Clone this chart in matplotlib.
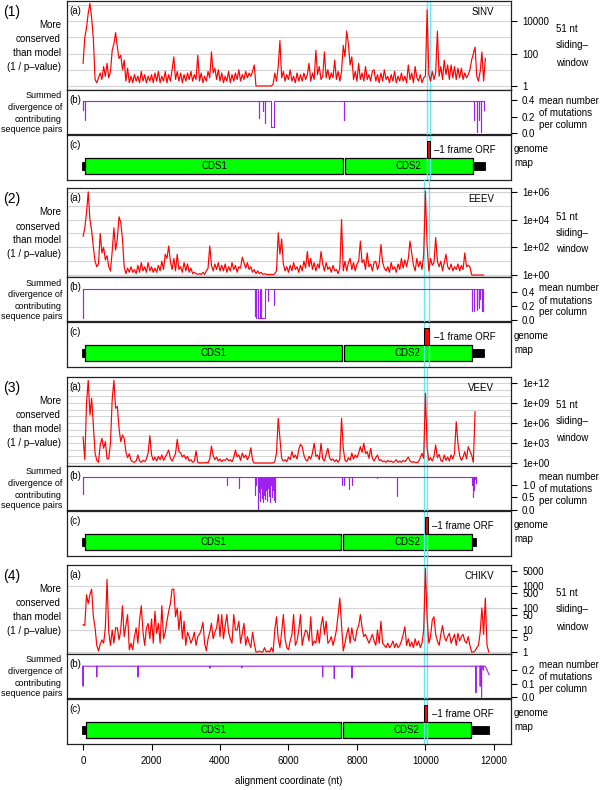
import numpy as np
import matplotlib
matplotlib.use('Agg')
import matplotlib.pyplot as plt
from matplotlib.patches import Rectangle
import matplotlib.transforms as mtrans

plt.rcParams['font.family'] = ['Liberation Sans', 'DejaVu Sans']

W, H = 600, 790
STEP = 50  # red traces: log10(1/p-value) read every 50 nt, from position 0

names = ['SINV', 'EEEV', 'VEEV', 'CHIKV']

sinv_log = [
    1.4, 3.0, 3.6, 4.5, 5.1, 4.2, 2.9, 0.4, 0.2, 0.5, 0.8, 0.4, 1.2, 0.6, 1.4, 0.5, 0.9, 2.2, 2.6, 3.3,
    2.4, 1.7, 1.9, 1.0, 1.6, 0.3, 1.1, 0.2, 0.6, 0.2, 0.7, 0.3, 0.6, 0.2, 0.9, 0.3, 0.7, 0.2, 0.6, 0.3,
    0.7, 0.2, 0.8, 0.3, 0.9, 0.2, 0.6, 0.3, 0.9, 0.2, 0.7, 0.3, 1.0, 1.8, 0.4, 0.9, 0.3, 0.8, 0.2, 0.7,
    0.3, 0.8, 0.4, 0.9, 0.3, 0.7, 0.4, 1.9, 0.3, 0.8, 0.2, 0.6, 0.3, 0.9, 0.5, 2.1, 0.8, 1.1, 0.4, 1.0,
    0.3, 0.8, 0.2, 0.6, 0.3, 0.9, 0.2, 0.7, 0.3, 0.8, 0.4, 1.0, 0.3, 0.7, 0.4, 0.9, 0.5, 0.8, 0.6, 0.9,
    1.3, 0.0, 0.0, 0.0, 0.0, 0.0, 0.0, 0.0, 0.0, 0.0, 0.0, 0.1, 0.8, 0.3, 1.2, 2.8, 0.5, 0.9, 0.3, 0.7,
    0.4, 1.0, 0.3, 0.6, 0.2, 0.8, 0.3, 0.7, 0.3, 0.8, 0.4, 0.7, 1.4, 0.3, 0.8, 0.4, 2.2, 0.7, 1.2, 0.4,
    0.6, 2.1, 0.5, 1.0, 0.4, 0.8, 0.5, 1.6, 0.4, 0.9, 0.3, 0.9, 2.5, 1.8, 3.4, 2.6, 1.3, 1.8, 0.4, 0.9,
    0.3, 1.4, 0.4, 0.8, 0.3, 1.2, 0.4, 0.7, 0.3, 0.9, 1.0, 0.3, 0.7, 0.2, 0.8, 0.3, 1.0, 0.4, 0.6, 0.2,
    0.7, 0.3, 0.9, 0.2, 0.6, 0.3, 0.8, 0.3, 0.6, 0.2, 1.3, 0.4, 0.8, 0.2, 1.2, 0.5, 0.3, 0.7, 0.2, 0.5,
    0.6, 4.7, 0.7, 0.3, 0.9, 0.4, 0.8, 3.4, 0.6, 1.2, 0.4, 1.6, 0.7, 1.3, 0.4, 1.3, 0.5, 1.2, 0.4, 1.1,
    0.5, 1.1, 0.4, 0.8, 0.5, 0.7, 1.0, 1.6, 2.0, 2.4, 0.6, 0.3, 0.9, 2.1, 0.3, 1.7,
]

eeev_log = [
    2.8, 3.4, 4.5, 6.0, 4.0, 3.2, 2.0, 1.0, 0.6, 0.8, 3.0, 1.6, 2.0, 1.1, 1.4, 0.6, 0.3, 1.7, 3.4, 1.8,
    2.6, 4.2, 3.8, 2.6, 0.6, 0.1, 0.5, 0.2, 0.6, 0.2, 0.4, 0.1, 0.7, 0.2, 0.9, 0.3, 0.6, 0.2, 0.9, 0.3,
    0.6, 0.2, 0.5, 0.2, 0.7, 0.3, 1.0, 0.4, 1.5, 1.2, 2.1, 1.0, 0.4, 1.2, 0.3, 1.5, 0.4, 0.6, 0.2, 0.9,
    0.3, 0.8, 0.2, 0.5, 0.1, 0.2, 0.1, 0.05, 0.1, 0.05, 0.2, 0.05, 0.3, 0.5, 2.1, 0.7, 0.3, 0.8, 0.4, 0.9,
    0.3, 0.7, 0.3, 0.8, 0.2, 0.6, 0.3, 0.9, 0.4, 0.7, 0.2, 0.6, 0.5, 1.3, 0.9, 0.5, 0.9, 0.4, 0.6, 0.2,
    0.4, 0.1, 0.3, 0.1, 0.2, 0.05, 0.1, 0.05, 0.05, 0.02, 0.05, 0.02, 0.1, 0.3, 3.05, 1.5, 2.6, 0.8, 0.3, 0.6,
    0.2, 0.7, 0.3, 0.9, 0.4, 0.6, 0.2, 0.7, 0.3, 1.0, 0.5, 1.7, 0.6, 1.2, 0.4, 0.9, 0.3, 0.8, 0.5, 1.7,
    0.8, 0.3, 0.9, 0.4, 0.6, 0.2, 0.7, 0.3, 0.4, 0.1, 0.5, 4.0, 0.3, 1.0, 0.3, 0.9, 1.2, 0.4, 0.9, 0.3,
    0.8, 1.0, 2.45, 0.9, 1.1, 0.4, 1.6, 0.6, 0.8, 0.3, 0.9, 1.0, 0.4, 0.8, 2.2, 0.9, 0.5, 0.3, 0.6, 0.2,
    0.9, 0.4, 0.6, 0.2, 0.8, 0.4, 1.2, 0.5, 1.1, 0.6, 1.2, 2.45, 1.6, 0.7, 0.3, 1.2, 0.6, 1.0, 0.4, 1.5,
    6.05, 2.1, 0.3, 1.2, 0.7, 0.9, 2.7, 1.0, 0.6, 1.0, 0.3, 0.9, 1.5, 0.6, 0.4, 0.8, 0.3, 0.6, 0.4, 0.8,
    0.3, 0.7, 0.4, 1.6, 0.6, 0.7, 0.6, 0.02, 0.0, 0.0, 0.0, 0.0, 0.0, 0.0, 0.0,
]

veev_log = [
    3.9, 0.5, 9.0, 12.4, 7.2, 9.7, 5.5, 1.5, 0.4, 0.1, 2.7, 3.7, 2.2, 3.2, 0.6, 0.7, 3.0, 9.5, 12.4, 8.2,
    8.5, 5.2, 3.2, 4.2, 3.7, 1.7, 0.8, 1.4, 0.4, 0.2, 0.1, 0.3, 1.2, 0.3, 0.1, 0.4, 0.2, 0.6, 1.5, 4.1,
    1.2, 0.4, 0.9, 0.3, 1.0, 0.5, 1.2, 0.4, 0.9, 1.4, 1.95, 0.7, 0.3, 0.8, 1.4, 3.55, 1.7, 1.5, 0.9, 1.2,
    0.6, 1.0, 0.3, 0.5, 0.1, 0.3, 1.8, 0.1, 0.0, 0.0, 0.05, 0.0, 0.1, 0.0, 0.6, 2.55, 1.1, 0.5, 0.9, 0.3,
    0.6, 0.2, 0.5, 0.4, 0.7, 0.3, 0.5, 0.2, 0.8, 1.95, 0.9, 1.2, 0.4, 1.5, 0.8, 1.2, 0.5, 1.0, 2.3, 0.4,
    0.0, 0.0, 0.0, 0.0, 0.0, 0.0, 0.0, 0.0, 0.0, 0.0, 0.0, 0.0, 0.2, 1.5, 6.7, 3.7, 0.7, 0.3, 0.5, 0.2,
    0.9, 0.5, 1.7, 0.8, 1.2, 0.6, 2.0, 2.8, 2.45, 1.2, 0.5, 0.3, 1.0, 0.6, 1.5, 2.95, 1.0, 1.2, 0.5, 2.95,
    0.6, 0.3, 1.3, 2.2, 0.8, 0.4, 0.6, 0.2, 0.5, 0.1, 0.6, 6.7, 2.2, 0.4, 0.2, 0.8, 0.4, 1.5, 0.6, 1.2,
    0.8, 1.5, 2.45, 1.6, 2.95, 1.4, 1.7, 0.7, 2.2, 0.7, 0.3, 0.8, 1.2, 0.4, 0.5, 0.2, 0.3, 0.1, 0.4, 0.2,
    0.3, 0.1, 0.2, 0.5, 0.1, 0.3, 0.1, 0.4, 0.2, 0.5, 0.9, 0.3, 0.1, 0.2, 0.1, 0.05, 0.2, 0.8, 1.45, 0.7,
    10.45, 2.2, 0.4, 0.8, 0.3, 1.0, 2.7, 0.8, 1.3, 0.4, 0.2, 1.2, 0.4, 0.9, 0.3, 1.2, 0.6, 1.5, 6.2, 2.95,
    1.1, 0.4, 0.9, 1.7, 0.6, 2.45, 1.8, 1.2, 0.1, 7.7,
]

chikv_log = [
    1.25, 1.2, 2.6, 2.2, 2.6, 2.85, 1.6, 1.1, 0.3, 0.05, 0.35, 0.55, 0.4, 1.1, 3.3, 0.9, 0.3, 1.0, 0.4, 1.1,
    1.1, 0.55, 1.0, 2.1, 0.7, 1.2, 1.7, 0.1, 0.4, 0.1, 0.7, 1.1, 0.4, 1.45, 2.1, 0.9, 0.3, 1.1, 1.3, 0.6,
    1.5, 0.4, 1.85, 0.85, 1.3, 0.4, 2.1, 0.6, 0.9, 1.4, 1.85, 2.2, 2.85, 2.85, 1.6, 2.0, 1.0, 1.85, 0.6, 1.4,
    0.3, 0.9, 0.7, 0.4, 0.6, 0.9, 0.3, 0.7, 0.8, 1.0, 1.35, 0.4, 0.05, 0.6, 0.9, 1.3, 0.6, 0.9, 1.1, 1.7,
    0.7, 1.7, 0.6, 1.2, 1.7, 0.9, 0.6, 0.4, 1.7, 1.0, 1.0, 1.4, 0.4, 0.85, 1.3, 0.3, 0.7, 0.4, 0.2, 0.9,
    0.4, 0.0, 0.0, 0.05, 0.0, 0.0, 0.2, 0.0, 0.05, 0.0, 0.2, 0.0, 1.0, 1.6, 0.6, 0.2, 0.9, 1.7, 0.6, 0.2,
    0.1, 0.5, 0.8, 1.7, 0.3, 0.5, 1.0, 1.7, 0.3, 0.7, 1.0, 0.9, 0.5, 1.6, 0.3, 0.5, 0.4, 1.0, 0.4, 1.2,
    1.6, 0.8, 1.4, 0.4, 0.5, 0.7, 0.3, 0.6, 1.0, 1.7, 2.45, 1.2, 0.05, 0.4, 0.8, 1.1, 0.4, 1.1, 0.6, 0.5,
    1.0, 1.2, 1.7, 1.1, 0.7, 0.8, 0.6, 0.4, 0.6, 0.8, 0.5, 0.3, 1.0, 0.4, 1.4, 0.4, 0.3, 0.2, 0.4, 0.2,
    0.3, 0.5, 0.2, 0.4, 0.2, 0.3, 0.5, 0.8, 1.15, 0.3, 0.6, 0.25, 0.45, 0.2, 0.6, 0.3, 0.5, 0.2, 0.4, 1.0,
    3.8, 1.5, 0.4, 0.7, 1.45, 1.6, 0.8, 0.5, 0.3, 0.8, 1.2, 0.7, 0.5, 0.7, 0.85, 0.4, 0.6, 0.8, 0.3, 0.85,
    0.5, 0.7, 0.8, 0.5, 0.4, 0.7, 0.3, 0.0, 0.0, 0.05, 0.2, 0.3, 0.9, 2.0, 0.8, 2.45, 0.3, 0.0,
]

# purple traces: flat level, extent, dips (start, end, value), tail points
div_level = [0.39, 0.453, 1.32, 0.227]
div_end = [11717, 11690, 11475, 11750]
sinv_dips = [(0, 0, 0.28), (70, 70, 0.16), (5140, 5140, 0.18), (5265, 5265, 0.27), (5314, 5314, 0.12),
             (5480, 5577, 0.075), (7620, 7620, 0.164), (11425, 11425, 0.16), (11505, 11505, 0.02),
             (11560, 11560, 0.16), (11620, 11620, 0.02), (11717, 11717, 0.28)]
eeev_dips = [(0, 0, 0.03), (5020, 5020, 0.06), (5060, 5060, 0.03), (5120, 5170, 0.03), (5190, 5190, 0.12),
             (5210, 5310, 0.03), (5390, 5390, 0.27), (5577, 5577, 0.22), (11348, 11348, 0.13),
             (11416, 11416, 0.13), (11494, 11494, 0.15), (11520, 11520, 0.2), (11560, 11560, 0.17),
             (11600, 11600, 0.3), (11640, 11640, 0.13), (11690, 11690, 0.13)]
veev_dips = [(0, 0, 0.64), (4215, 4215, 1.02), (4555, 4555, 0.89), (5020, 5020, 0.6), (5060, 5060, 1.0),
             (5100, 5100, 0.03), (5130, 5130, 0.7), (5160, 5160, 0.35), (5190, 5190, 0.9), (5220, 5220, 0.49),
             (5250, 5250, 0.29), (5280, 5280, 0.6), (5310, 5310, 0.45), (5340, 5340, 0.8), (5370, 5370, 0.35),
             (5400, 5400, 0.9), (5430, 5430, 0.55), (5460, 5460, 0.3), (5490, 5490, 1.0), (5520, 5520, 0.5),
             (5550, 5550, 0.8), (5580, 5580, 0.4), (5606, 5606, 0.3), (7570, 7570, 1.02), (7610, 7610, 1.02),
             (7775, 7775, 0.85), (7863, 7863, 1.02), (8575, 8575, 1.27), (9177, 9177, 0.55),
             (11348, 11348, 1.02), (11378, 11378, 0.5), (11407, 11407, 0.8), (11445, 11445, 1.23),
             (11475, 11475, 1.1)]
chikv_dips = [(0, 0, 0.082), (400, 400, 0.15), (1606, 1606, 0.15), (3708, 3708, 0.215), (4636, 4636, 0.215),
              (6998, 6998, 0.15), (7338, 7338, 0.138), (7854, 7854, 0.143), (11475, 11475, 0.034),
              (11600, 11600, 0.082), (11640, 11640, 0.002), (11690, 11690, 0.2)]
div_tail = [[], [], [], [(11800, 0.2), (11860, 0.165)]]

# genome maps (nt)
utr5 = [(-20, 60), (-20, 60), (-20, 60), (-20, 80)]
cds1 = [(60, 7590), (60, 7560), (60, 7540), (80, 7520)]
cds2 = [(7650, 11387), (7610, 11350), (7590, 11350), (7580, 11330)]
utr3_end = [11740, 11710, 11475, 11860]
orf = [(10033, 10120), (9965, 10110), (9985, 10065), (9965, 10060)]
cyan_x = [(10045, 10140), (9965, 10110), (9960, 10050), (9965, 10060)]

# axis settings
a_ylog = [(-0.25, 5.25), (-0.14, 6.28), (-0.45, 12.9), (-0.09, 3.95)]
a_ticks = [[1, 1e2, 1e4], [1, 1e2, 1e4, 1e6], [1, 1e3, 1e6, 1e9, 1e12],
           [1, 5, 10, 50, 100, 500, 1000, 5000]]
a_labels = [['1', '100', '10000'], ['1e+00', '1e+02', '1e+04', '1e+06'],
            ['1e+00', '1e+03', '1e+06', '1e+09', '1e+12'],
            ['1', '5', '10', '50', '100', '500', '1000', '5000']]
a_ndec = [6, 7, 13, 4]
b_ylim = [(-0.01, 0.52), (-0.01, 0.62), (-0.02, 1.78), (-0.005, 0.316)]
b_ticks = [[0, 0.2, 0.4], [0, 0.2, 0.4], [0, 0.5, 1.0], [0, 0.1, 0.2]]
tops = [1, 188, 377, 565]

XLIM = (-470, 12500)
AX_L, AX_R = 67, 511
RED = '#ff0000'
PURPLE = '#a020f0'
CYAN = '#66e8f2'
FRAME = '#222222'

logs = [sinv_log, eeev_log, veev_log, chikv_log]
dips = [sinv_dips, eeev_dips, veev_dips, chikv_dips]


def fx(px):
    return px / W


def fy(py):
    return 1 - py / H


def axes_at(fig, top, height):
    return fig.add_axes([fx(AX_L), fy(top + height), (AX_R - AX_L) / W, height / H])


def dip_line(level, end, dlist, tail):
    xs, ys = [0], [level]
    for a, b, v in dlist:
        xs += [a, a, b, b]
        ys += [level, v, v, level]
    xs.append(end)
    ys.append(level)
    for x, y in tail:
        xs.append(x)
        ys.append(y)
    return xs, ys


def style(ax):
    ax.set_xlim(*XLIM)
    for s in ax.spines.values():
        s.set_color(FRAME)
        s.set_linewidth(0.9)
    ax.tick_params(axis='x', bottom=False, labelbottom=False)
    ax.yaxis.tick_right()
    ax.tick_params(axis='y', direction='out', length=4, width=0.8, pad=4,
                   labelsize=7, colors='black')


def cyan(ax, xs, extra_top):
    tr = mtrans.blended_transform_factory(ax.transData, ax.transAxes)
    for x in xs:
        ax.plot([x, x], [0, 1 + extra_top], transform=tr, color=CYAN, lw=1.0,
                zorder=2, clip_on=False)


fig = plt.figure(figsize=(W / 100, H / 100), dpi=100)
fs = 7

for i in range(4):
    T = tops[i]
    vals = np.array(logs[i])
    pos = np.arange(len(vals)) * STEP

    # (a) conservation
    ax = axes_at(fig, T, 89)
    style(ax)
    ax.set_yscale('log')
    lo, hi = a_ylog[i]
    ax.set_ylim(10 ** lo, 10 ** hi)
    for d in range(a_ndec[i]):
        ax.axhline(10.0 ** d, color='#d4d4d4', lw=0.8, zorder=0)
    ax.plot(pos, 10 ** vals, color=RED, lw=0.85, zorder=3)
    ax.yaxis.set_minor_locator(plt.NullLocator())
    ax.set_yticks(a_ticks[i])
    ax.set_yticklabels(a_labels[i])
    ax.yaxis.set_minor_formatter(plt.NullFormatter())
    cyan(ax, cyan_x[i], 9 / 89 if i > 0 else 0)

    # (b) divergence
    bx = axes_at(fig, T + 89, 44)
    style(bx)
    bx.set_ylim(*b_ylim[i])
    xs, ys = dip_line(div_level[i], div_end[i], dips[i], div_tail[i])
    bx.plot(xs, ys, color=PURPLE, lw=0.8, zorder=3)
    bx.set_yticks(b_ticks[i])
    bx.set_yticklabels(['%.1f' % t for t in b_ticks[i]])
    cyan(bx, cyan_x[i], 0)

    # (c) genome map
    cx = axes_at(fig, T + 134, 45)
    style(cx)
    cx.set_ylim(0, 1)
    cx.tick_params(axis='y', right=False, labelright=False)
    cx.add_patch(Rectangle((utr5[i][0], 0.22), utr5[i][1] - utr5[i][0], 0.18,
                           facecolor='black', edgecolor='black', lw=0.6, zorder=1))
    cx.add_patch(Rectangle((cds2[i][1], 0.22), utr3_end[i] - cds2[i][1], 0.18,
                           facecolor='black', edgecolor='black', lw=0.6, zorder=1))
    for k, (s, e) in enumerate([cds1[i], cds2[i]]):
        cx.add_patch(Rectangle((s, 0.13), e - s, 0.36, facecolor='#00ff00',
                               edgecolor='black', lw=0.9, zorder=1))
        cx.text((s + e) / 2, 0.31, 'CDS%d' % (k + 1), ha='center', va='center',
                fontsize=fs, zorder=4)
    cx.add_patch(Rectangle((orf[i][0], 0.49), orf[i][1] - orf[i][0], 0.38,
                           facecolor=RED, edgecolor='black', lw=0.7, zorder=3))
    cx.text(orf[i][1] + 130, 0.67, '–1 frame ORF', ha='left', va='center', fontsize=fs)
    cyan(cx, cyan_x[i], 2 / 45)

    if i == 3:
        cx.set_xticks(range(0, 12001, 2000))
        cx.tick_params(axis='x', bottom=True, labelbottom=True, direction='out',
                       length=4, width=0.8, pad=5, labelsize=fs)

    # labels around the block
    fig.text(fx(3), fy(T + 11), '(%d)' % (i + 1), fontsize=10, ha='left', va='center')
    for txt, dy in zip(['More', 'conserved', 'than model', '(1 / p–value)'], [24, 38.5, 52, 66]):
        fig.text(fx(61), fy(T + dy), txt, fontsize=fs, ha='right', va='center')
    for txt, dy in zip(['Summed', 'divergence of', 'contributing', 'sequence pairs'], [95, 106.5, 118, 129]):
        fig.text(fx(62), fy(T + dy), txt, fontsize=6.5, ha='right', va='center')
    for txt, dy in zip(['(a)', '(b)', '(c)'], [10, 99, 144]):
        fig.text(fx(69), fy(T + dy), txt, fontsize=fs, ha='left', va='center')
    fig.text(fx(494), fy(T + 11), names[i], fontsize=fs, ha='right', va='center')
    for txt, dy in zip(['51 nt', 'sliding–', 'window'], [28.5, 44.5, 61.5]):
        fig.text(fx(556), fy(T + dy), txt, fontsize=fs, ha='left', va='center')
    for txt, dy in zip(['mean number', 'of mutations', 'per column'], [100, 112.5, 124]):
        fig.text(fx(539), fy(T + dy), txt, fontsize=fs, ha='left', va='center')
    for txt, dy in zip(['genome', 'map'], [148, 162]):
        fig.text(fx(514), fy(T + dy), txt, fontsize=fs, ha='left', va='center')

fig.text(fx(289), fy(781), 'alignment coordinate (nt)', fontsize=fs, ha='center', va='center')

fig.savefig('out.png', dpi=100)
